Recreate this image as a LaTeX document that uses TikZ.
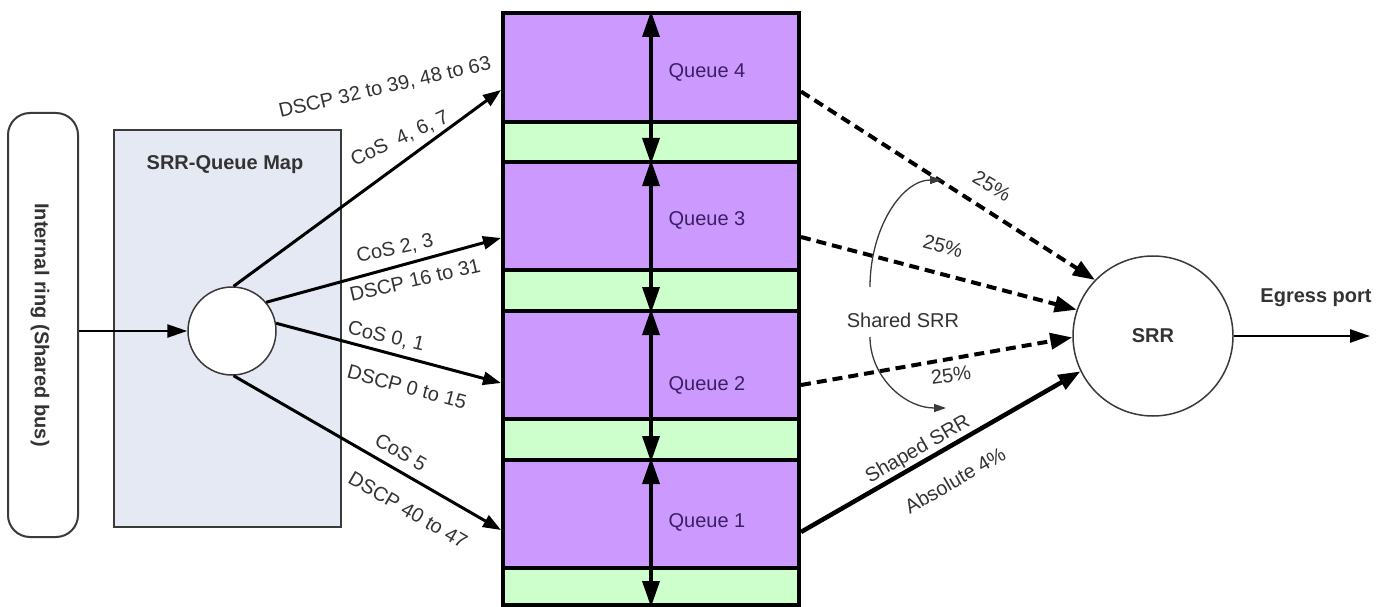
\documentclass[tikz,border=0pt]{standalone}
\usepackage{fontspec}
\setmainfont{Liberation Sans}
\usetikzlibrary{arrows.meta,calc}
\definecolor{qpurple}{HTML}{CC99FF}
\definecolor{qgreen}{HTML}{CCFFCC}
\definecolor{mapfill}{HTML}{E5E9F3}
\definecolor{edge}{HTML}{3A3A3A}
\definecolor{txt}{HTML}{333333}
\definecolor{qtxt}{HTML}{3C1E64}
\tikzset{
  lbl/.style={font=\fontsize{20}{24}\selectfont, text=txt, inner sep=0pt},
  blbl/.style={font=\fontsize{20}{24}\selectfont\bfseries, text=txt, inner sep=0pt},
  qlbl/.style={font=\fontsize{20}{24}\selectfont, text=qtxt, inner sep=0pt},
  purplebox/.style={draw=black, line width=4pt, fill=qpurple, minimum width=296pt, inner sep=0pt},
  greenbox/.style={draw=black, line width=4pt, fill=qgreen, minimum width=296pt, inner sep=0pt},
  dbl/.style={line width=3.5pt, {Triangle[length=26pt,width=17pt]}-{Triangle[length=26pt,width=17pt]}},
  maparrow/.style={line width=3pt, -{Triangle[length=18pt,width=13pt]}},
  dasharrow/.style={line width=4pt, dash pattern=on 10pt off 6pt, -{Triangle[length=22pt,width=16pt]}},
  solidarrow/.style={line width=4.5pt, -{Triangle[length=22pt,width=16pt]}},
  thinarrow/.style={line width=2.5pt, -{Triangle[length=20pt,width=13pt]}},
  arcarrow/.style={line width=1.3pt, edge, -{Triangle[length=12pt,width=8pt]}},
}
\begin{document}
\begin{tikzpicture}[x=1pt,y=-1pt]
\useasboundingbox (0,0) rectangle (1386,607);
\fill[white] (0,0) rectangle (1386,607);

% internal ring
\node[draw=edge, line width=2pt, rounded corners=22pt, fill=white,
      minimum width=70pt, minimum height=424pt, inner sep=0pt] (ring) at (43,325) {};
\node[blbl, rotate=-90] (ringlbl) at (40,325) {Internal ring (Shared bus)};

% SRR-Queue map box
\node[draw=edge, line width=2pt, fill=mapfill,
      minimum width=227pt, minimum height=397pt, inner sep=0pt] (map) at (227.5,328.5) {};
\node[blbl] (maplbl) at (225,165) {SRR-Queue Map};
\node[draw=edge, line width=1.5pt, fill=white, circle, minimum size=88pt, inner sep=0pt] (mapc) at (232,331) {};

\draw[thinarrow] (ring.east |- mapc.west) -- (mapc.west);

% queue stack
\node[purplebox, minimum height=109pt] (q4) at (651,67.5) {};
\node[greenbox, minimum height=40pt] (g4) at (651,142) {};
\node[purplebox, minimum height=108pt] (q3) at (651,216) {};
\node[greenbox, minimum height=41pt] (g3) at (651,290.5) {};
\node[purplebox, minimum height=108pt] (q2) at (651,365) {};
\node[greenbox, minimum height=41pt] (g2) at (651,439.5) {};
\node[purplebox, minimum height=108pt] (q1) at (651,514) {};
\node[greenbox, minimum height=37pt] (g1) at (651,586.5) {};

\draw[dbl] (q4.north) -- (g4.south);
\draw[dbl] (q3.north) -- (g3.south);
\draw[dbl] (q2.north) -- (g2.south);
\draw[dbl] (q1.north) -- (g1.south);

\node[qlbl] (q4lbl) at (707,72) {Queue 4};
\node[qlbl] (q3lbl) at (707,220) {Queue 3};
\node[qlbl] (q2lbl) at (707,385) {Queue 2};
\node[qlbl] (q1lbl) at (707,522) {Queue 1};

% arrows from map circle
\draw[maparrow] (mapc.88) -- ([yshift=-22.5pt]q4.west);
\draw[maparrow] (mapc.40) -- ([yshift=-22pt]q3.west);
\draw[maparrow] (mapc.10) -- ([yshift=-18pt]q2.west);
\draw[maparrow] (mapc.272) -- ([yshift=-16pt]q1.west);

\node[lbl, rotate=13] (l4a) at (385,88) {DSCP 32 to 39, 48 to 63};
\node[lbl, rotate=25] (l4b) at (400,139) {CoS\ \ 4, 6, 7};
\node[lbl, rotate=12] (l3a) at (395,249) {CoS 2, 3};
\node[lbl, rotate=13] (l3b) at (415,280) {DSCP 16 to 31};
\node[lbl, rotate=-13] (l2a) at (386,337) {CoS 0, 1};
\node[lbl, rotate=-15] (l2b) at (407,387) {DSCP 0 to 15};
\node[lbl, rotate=-30] (l1a) at (401,452) {CoS 5};
\node[lbl, rotate=-30] (l1b) at (408,510) {DSCP 40 to 47};

% SRR circle
\node[draw=edge, line width=1.5pt, fill=white, circle, minimum size=160pt, inner sep=0pt, blbl] (srr) at (1153,336) {SRR};
\coordinate (egress) at (1370,336);
\draw[thinarrow] (srr.east) -- (egress);
\node[blbl] (egresslbl) at (1316,298) {Egress port};

% to SRR
\draw[dasharrow] ([yshift=-24pt]q4.east) -- (srr.136);
\draw[dasharrow] ([yshift=-21pt]q3.east) -- (srr.161);
\draw[dasharrow] ([yshift=-20pt]q2.east) -- (srr.181);
\draw[solidarrow] ([yshift=-18pt]q1.east) -- (srr.206);

\node[lbl, rotate=-30] (p4) at (992,186) {25\%};
\node[lbl, rotate=-15] (p3) at (943,246) {25\%};
\node[lbl, rotate=8] (p2) at (951,375) {25\%};
\node[lbl] (shared) at (903,320) {Shared SRR};
\node[lbl, rotate=30] (shaped) at (918,450) {Shaped SRR};
\node[lbl, rotate=30] (absol) at (955,480) {Absolute 4\%};

\coordinate (arcAs) at (870,287);
\coordinate (arcAe) at (942,180);
\coordinate (arcBs) at (870,337);
\coordinate (arcBe) at (946,408);
\draw[arcarrow] (arcAs) .. controls (870,228) and (902,180) .. (arcAe);
\draw[arcarrow] (arcBs) .. controls (870,376) and (904,408) .. (arcBe);
\end{tikzpicture}
\end{document}
